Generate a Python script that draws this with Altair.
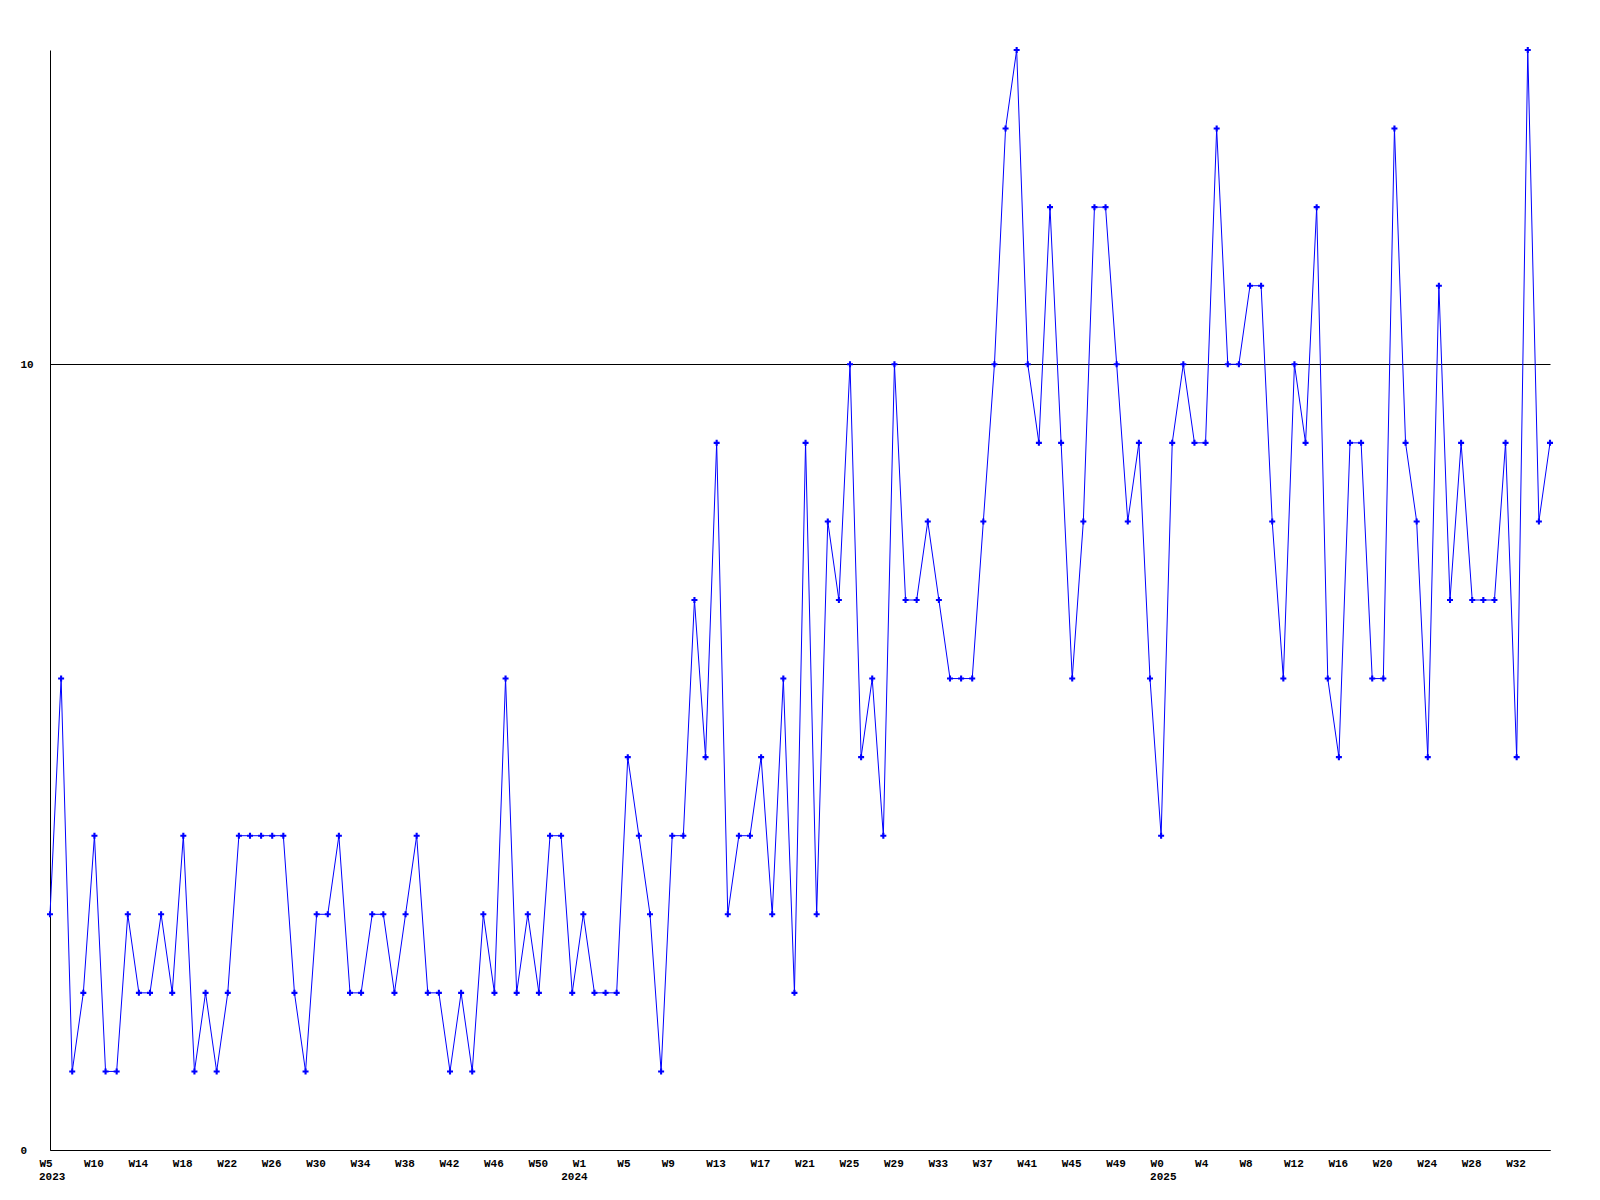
import altair as alt
import pandas as pd

values = [
    3, 6, 1, 2, 4, 1, 1, 3, 2, 2,
    3, 2, 4, 1, 2, 1, 2, 4, 4, 4,
    4, 4, 2, 1, 3, 3, 4, 2, 2, 3,
    3, 2, 3, 4, 2, 2, 1, 2, 1, 3,
    2, 6, 2, 3, 2, 4, 4, 2, 3, 2,
    2, 2, 5, 4, 3, 1, 4, 4, 7, 5,
    9, 3, 4, 4, 5, 3, 6, 2, 9, 3,
    8, 7, 10, 5, 6, 4, 10, 7, 7, 8,
    7, 6, 6, 6, 8, 10, 13, 14, 10, 9,
    12, 9, 6, 8, 12, 12, 10, 8, 9, 6,
    4, 9, 10, 9, 9, 13, 10, 10, 11, 11,
    8, 6, 10, 9, 12, 6, 5, 9, 9, 6,
    6, 13, 9, 8, 5, 11, 7, 9, 7, 7,
    7, 9, 5, 14, 8, 9,
]

week_labels = [
    "W5", "W10", "W14", "W18", "W22", "W26", "W30", "W34", "W38", "W42",
    "W46", "W50", "W1", "W5", "W9", "W13", "W17", "W21", "W25", "W29",
    "W33", "W37", "W41", "W45", "W49", "W0", "W4", "W8", "W12", "W16",
    "W20", "W24", "W28", "W32",
]
tick_step = 4
year_labels = ["2023", "2024", "2025"]
year_positions = [0, 47, 100]

y_ticks = [0, 10]

df = pd.DataFrame({"i": list(range(len(values))), "v": values})
years_df = pd.DataFrame({"pos": year_positions, "year": year_labels})

FONT = "Liberation Mono"
BLUE = "#0000FF"

tick_values = [k * tick_step for k in range(len(week_labels))]
label_array = "[" + ",".join("'" + w + "'" for w in week_labels) + "]"

x_enc = alt.X(
    "i:Q",
    scale=alt.Scale(domain=[0, len(values) - 1], nice=False, zero=False),
    axis=alt.Axis(
        title=None,
        values=tick_values,
        labelExpr=label_array + "[round(datum.value / " + str(tick_step) + ")]",
        ticks=False,
        grid=False,
        domainColor="black",
        domainWidth=1,
        labelAlign="left",
        labelBaseline="top",
        labelOffset=-11,
        labelPadding=7,
        labelFlush=False,
        labelOverlap=False,
        labelBound=False,
        labelFont=FONT,
        labelFontSize=11,
        labelFontWeight="bold",
        labelColor="black",
    ),
)

y_enc = alt.Y(
    "v:Q",
    scale=alt.Scale(domain=[0, 14], nice=False, zero=True),
    axis=alt.Axis(
        title=None,
        values=y_ticks,
        format="d",
        ticks=False,
        grid=True,
        gridColor="black",
        gridOpacity=1,
        gridWidth=1,
        domainColor="black",
        domainWidth=1,
        labelAlign="left",
        labelBaseline="middle",
        labelPadding=30,
        labelFont=FONT,
        labelFontSize=11,
        labelFontWeight="bold",
        labelColor="black",
    ),
)

line = alt.Chart(df).mark_line(color=BLUE, strokeWidth=1).encode(x=x_enc, y=y_enc)

cross = "M-1,-0.35H-0.35V-1H0.35V-0.35H1V0.35H0.35V1H-0.35V0.35H-1Z"
points = alt.Chart(df).mark_point(
    shape=cross, filled=True, color=BLUE, size=36, opacity=1
).encode(x="i:Q", y="v:Q")

years = alt.Chart(years_df).mark_text(
    align="left", baseline="top", dx=-11, font=FONT, fontSize=11,
    fontWeight="bold", color="black"
).encode(x="pos:Q", y=alt.value(1121), text="year:N")

chart = alt.layer(line, points, years).properties(
    width=1500,
    height=1100,
    padding={"left": 42, "top": 42, "right": 42, "bottom": 50},
    autosize=alt.AutoSizeParams(type="none"),
    background="white",
).configure_view(stroke=None)

chart.save("out.html", embed_options={"renderer": "svg", "actions": False})
